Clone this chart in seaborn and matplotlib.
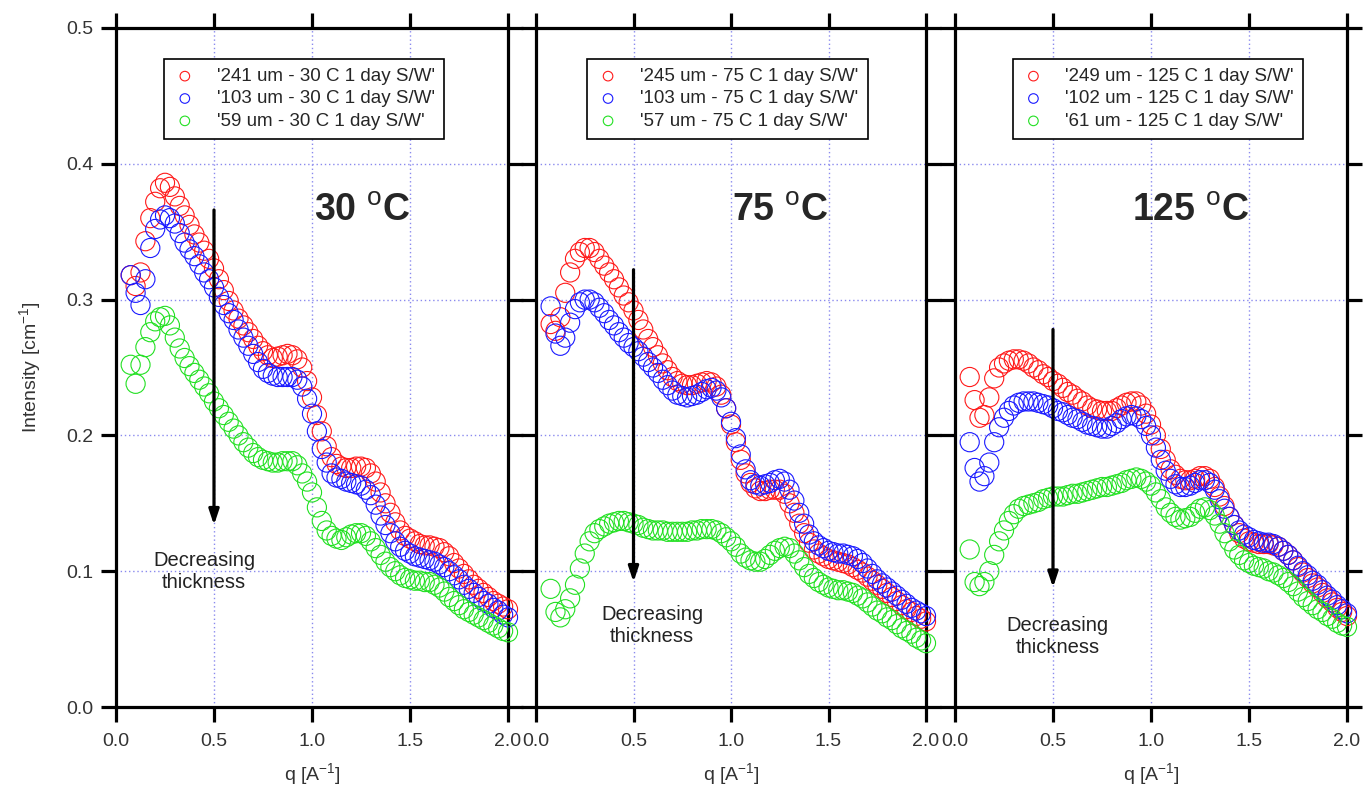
import matplotlib
matplotlib.use("Agg")
import matplotlib.pyplot as plt
import seaborn as sns

# q grid [1/A] shared by all curves (rows: 0.075-0.2, then 0.2 wide blocks)
Q = [0.075, 0.100, 0.125, 0.150, 0.175, 0.200,
     0.225, 0.250, 0.275, 0.300, 0.325, 0.350, 0.375, 0.400,
     0.425, 0.450, 0.475, 0.500, 0.525, 0.550, 0.575, 0.600,
     0.625, 0.650, 0.675, 0.700, 0.725, 0.750, 0.775, 0.800,
     0.825, 0.850, 0.875, 0.900, 0.925, 0.950, 0.975, 1.000,
     1.025, 1.050, 1.075, 1.100, 1.125, 1.150, 1.175, 1.200,
     1.225, 1.250, 1.275, 1.300, 1.325, 1.350, 1.375, 1.400,
     1.425, 1.450, 1.475, 1.500, 1.525, 1.550, 1.575, 1.600,
     1.625, 1.650, 1.675, 1.700, 1.725, 1.750, 1.775, 1.800,
     1.825, 1.850, 1.875, 1.900, 1.925, 1.950, 1.975, 2.000]

# 30 C
i30_241 = [.318, .310, .320, .343, .360, .372,
           .382, .386, .383, .376, .369, .362, .355, .348,
           .342, .336, .330, .323, .315, .307, .299, .292,
           .286, .281, .276, .271, .266, .262, .259, .257,
           .258, .259, .260, .259, .256, .250, .240, .228,
           .215, .203, .192, .184, .179, .177, .176, .176,
           .177, .177, .176, .172, .166, .158, .150, .143,
           .136, .130, .126, .124, .122, .120, .119, .119,
           .118, .117, .114, .111, .106, .102, .098, .094,
           .090, .087, .084, .081, .078, .076, .074, .072]
i30_103 = [.318, .305, .296, .315, .338, .352,
           .359, .362, .360, .356, .349, .342, .337, .332,
           .326, .320, .315, .309, .302, .296, .290, .285,
           .278, .272, .266, .260, .254, .249, .246, .244,
           .243, .243, .243, .243, .241, .236, .227, .216,
           .203, .190, .180, .172, .169, .168, .166, .165,
           .164, .163, .160, .156, .149, .141, .134, .128,
           .122, .118, .115, .113, .111, .110, .109, .108,
           .107, .105, .103, .100, .097, .094, .090, .087,
           .084, .081, .078, .076, .073, .071, .068, .066]
i30_59 = [.252, .238, .252, .265, .276, .284,
          .287, .288, .281, .272, .264, .257, .251, .246,
          .241, .236, .231, .225, .220, .215, .210, .205,
          .200, .195, .191, .187, .184, .182, .181, .180,
          .180, .181, .181, .181, .178, .172, .166, .158,
          .147, .137, .130, .126, .124, .123, .125, .127,
          .128, .128, .126, .122, .117, .112, .107, .103,
          .100, .097, .095, .094, .093, .093, .092, .092,
          .090, .088, .085, .081, .078, .075, .072, .070,
          .068, .066, .064, .062, .060, .058, .056, .055]

# 75 C
i75_245 = [.282, .277, .287, .305, .320, .330,
           .335, .338, .338, .335, .330, .325, .320, .315,
           .309, .303, .298, .292, .285, .278, .271, .265,
           .259, .253, .248, .243, .240, .238, .237, .237,
           .238, .239, .240, .239, .236, .230, .220, .208,
           .195, .182, .172, .165, .161, .159, .159, .160,
           .160, .160, .157, .150, .143, .135, .128, .121,
           .116, .113, .111, .109, .108, .107, .106, .105,
           .103, .101, .099, .096, .093, .090, .087, .084,
           .081, .078, .075, .072, .070, .067, .065, .063]
i75_103 = [.295, .275, .266, .272, .283, .293,
           .298, .300, .300, .298, .294, .290, .285, .281,
           .276, .272, .268, .265, .262, .258, .254, .250,
           .246, .241, .237, .233, .230, .229, .228, .229,
           .230, .232, .234, .235, .233, .228, .220, .210,
           .198, .186, .175, .167, .164, .163, .164, .165,
           .167, .168, .166, .160, .152, .143, .135, .127,
           .122, .119, .117, .115, .114, .113, .113, .112,
           .111, .109, .106, .102, .098, .094, .091, .088,
           .085, .082, .079, .076, .073, .071, .069, .067]
i75_57 = [.087, .070, .066, .072, .080, .090,
          .102, .113, .122, .128, .131, .133, .135, .136,
          .137, .137, .136, .135, .134, .132, .131, .130,
          .130, .130, .129, .129, .129, .129, .129, .130,
          .130, .131, .131, .131, .130, .128, .125, .122,
          .118, .113, .110, .108, .107, .107, .109, .112,
          .115, .117, .118, .117, .113, .108, .103, .098,
          .095, .092, .090, .088, .087, .086, .086, .085,
          .084, .082, .080, .077, .074, .071, .069, .066,
          .064, .061, .058, .056, .054, .051, .049, .047]

# 125 C
i125_249 = [.243, .226, .213, .215, .228, .242,
            .250, .253, .255, .256, .256, .255, .253, .250,
            .248, .245, .243, .240, .238, .235, .232, .230,
            .227, .225, .222, .220, .219, .218, .218, .218,
            .220, .222, .224, .225, .225, .222, .216, .208,
            .200, .190, .182, .175, .171, .168, .167, .167,
            .168, .170, .170, .168, .162, .155, .148, .140,
            .134, .128, .124, .122, .121, .120, .120, .120,
            .119, .118, .115, .112, .108, .103, .099, .095,
            .091, .088, .084, .080, .077, .073, .070, .067]
i125_102 = [.195, .176, .166, .170, .180, .195,
            .206, .213, .218, .222, .224, .225, .225, .225,
            .224, .223, .222, .220, .218, .217, .215, .213,
            .212, .210, .208, .207, .206, .205, .205, .207,
            .209, .212, .214, .215, .214, .212, .207, .200,
            .191, .182, .174, .168, .164, .162, .162, .163,
            .165, .167, .167, .165, .160, .153, .146, .140,
            .134, .130, .127, .125, .123, .122, .121, .121,
            .120, .118, .115, .112, .108, .104, .100, .097,
            .093, .090, .086, .082, .079, .075, .072, .069]
i125_61 = [.116, .092, .089, .092, .100, .112,
           .122, .130, .137, .142, .146, .148, .149, .150,
           .151, .153, .154, .155, .155, .155, .156, .157,
           .157, .158, .159, .160, .161, .162, .162, .163,
           .164, .165, .167, .168, .169, .168, .166, .163,
           .158, .153, .147, .143, .140, .138, .139, .140,
           .143, .146, .147, .145, .141, .135, .128, .122,
           .116, .112, .108, .106, .104, .103, .102, .100,
           .099, .097, .095, .092, .089, .085, .081, .078,
           .075, .072, .070, .067, .065, .062, .060, .059]

panels = [
    ("30", [i30_241, i30_103, i30_59],
     ["'241 um - 30 C 1 day S/W'", "'103 um - 30 C 1 day S/W'", "'59 um - 30 C 1 day S/W'"]),
    ("75", [i75_245, i75_103, i75_57],
     ["'245 um - 75 C 1 day S/W'", "'103 um - 75 C 1 day S/W'", "'57 um - 75 C 1 day S/W'"]),
    ("125", [i125_249, i125_102, i125_61],
     ["'249 um - 125 C 1 day S/W'", "'102 um - 125 C 1 day S/W'", "'61 um - 125 C 1 day S/W'"]),
]
colors = ["#ff1a1a", "#1a1aff", "#22e022"]

# arrow (start, end) and text position per panel
arrows = [(0.366, 0.134), (0.322, 0.092), (0.278, 0.088)]
notes = [(0.45, 0.100), (0.595, 0.060), (0.525, 0.052)]
leg_x = [0.48, 0.491, 0.518]

sns.set_style("white")
plt.rcParams["font.family"] = ["Liberation Sans", "DejaVu Sans"]
plt.rcParams["mathtext.fontset"] = "custom"
plt.rcParams["mathtext.rm"] = "Liberation Sans"

fig = plt.figure(figsize=(13.64, 7.9), dpi=100)
lefts = [116 / 1364, 536 / 1364, 955 / 1364]
widths = [392 / 1364, 390 / 1364, 392 / 1364]

for k, (temp, series, labels) in enumerate(panels):
    ax = fig.add_axes([lefts[k], 83 / 790, widths[k], 679 / 790])
    for vals, lab, col in zip(series, labels, colors):
        sns.scatterplot(x=Q, y=vals, ax=ax, s=190, marker="o", color=col,
                        facecolor="none", edgecolor=col, linewidth=0.8,
                        label=lab, clip_on=False, zorder=3)
    ax.set_xlim(0, 2.0)
    ax.set_ylim(0, 0.5)
    ax.set_xticks([0, 0.5, 1.0, 1.5, 2.0])
    ax.set_yticks([0, 0.1, 0.2, 0.3, 0.4, 0.5])
    ax.xaxis.set_major_formatter("{x:.1f}")
    ax.yaxis.set_major_formatter("{x:.1f}")
    ax.set_axisbelow(True)
    ax.grid(True, color="#8a8aee", linestyle=(0, (1, 2)), linewidth=1.0)
    for sp in ax.spines.values():
        sp.set_linewidth(2.3)
        sp.set_color("black")
    ax.tick_params(direction="out", length=11, width=2.3, bottom=True, left=True,
                   top=True, right=True, labelsize=14, colors="black")
    ax.tick_params(axis="x", labelcolor="#333333", pad=8)
    ax.tick_params(axis="y", labelcolor="#333333", pad=5)
    ax.set_xlabel("q [A$^{-1}$]", fontsize=14, color="#333333", labelpad=8)
    if k == 0:
        ax.set_ylabel("Intensity [cm$^{-1}$]", fontsize=14, color="#333333", labelpad=16)
    else:
        ax.set_ylabel("")
        ax.tick_params(axis="y", labelleft=False)

    leg = ax.legend(loc="upper center", bbox_to_anchor=(leg_x[k], 0.955),
                    fontsize=13.5, markerscale=0.5, frameon=True, fancybox=False,
                    framealpha=1, edgecolor="black", borderpad=0.5,
                    labelspacing=0.28, handlelength=1.2, handletextpad=1.1,
                    borderaxespad=0)
    leg.get_frame().set_linewidth(1.2)

    ax.text(1.5, 0.365, temp + r" $^{\rm o}$C", fontsize=27, fontweight="bold",
            ha="right", va="center")
    a0, a1 = arrows[k]
    ax.annotate("", xy=(0.5, a1), xytext=(0.5, a0),
                arrowprops=dict(arrowstyle="-|>,head_length=0.9,head_width=0.3",
                                color="black", lw=2.3, shrinkA=0, shrinkB=0))
    nx, ny = notes[k]
    ax.text(nx, ny, "Decreasing\nthickness", fontsize=14.5, color="#222222",
            ha="center", va="center", linespacing=1.2)

fig.savefig("out.png", dpi=100)
